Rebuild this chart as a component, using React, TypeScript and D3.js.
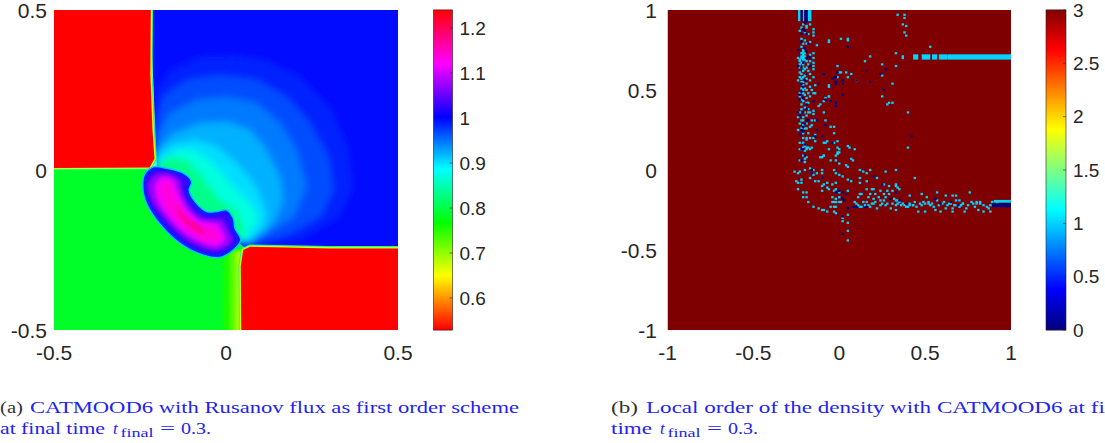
import React from "react";
import * as d3 from "d3";

type P = [number, number];

// ---------- left panel: density levels (axis units) ----------
const ticksA = [-0.5, 0, 0.5];
const cbarTicksA = [0.6, 0.7, 0.8, 0.9, 1, 1.1, 1.2];
const cbarDomainA: P = [0.529, 1.24];
const hueStopsA = [0.529, 0.648, 0.766, 0.885, 1.0, 1.12, 1.24];
const hueColorsA = ["#ff0000", "#ffff00", "#00ff00", "#00ffff", "#0000ff", "#ff00ff", "#ff0000"];

const lowLeftValue = 0.785;
const upperRightValue = 0.995;
const redValue = 0.529;
const lowLeftState: P[] = [[-0.6, 0.005], [-0.2, 0.005], [0.05, -0.24], [0.05, -0.6], [-0.6, -0.6]];
const upperRightState: P[] = [[-0.225, 0.6], [0.6, 0.6], [0.6, -0.25], [0.05, -0.24], [-0.2, 0]];
const upperLeftState: P[] = [[-0.6, 0.6], [-0.218, 0.6], [-0.22, 0.3], [-0.214, 0.13], [-0.208, 0.035], [-0.222, 0.008], [-0.6, 0.006]];
const lowerRightState: P[] = [[0.6, -0.6], [0.045, -0.6], [0.043, -0.3], [0.05, -0.25], [0.07, -0.24], [0.3, -0.245], [0.6, -0.245]];

const rarefactionClose: P[] = [[0.045, -0.23], [-0.1, -0.12], [-0.21, 0.01]];
const rarefactionValues = [0.985, 0.965, 0.945, 0.92, 0.9, 0.87, 0.83];
const rarefaction0: P[] = [[-0.206, 0.115], [-0.202, 0.25], [-0.163, 0.3125], [-0.076, 0.354], [0.021, 0.359], [0.118, 0.344], [0.215, 0.292], [0.302, 0.198], [0.356, 0.073], [0.37, -0.052], [0.331, -0.146], [0.215, -0.219], [0.079, -0.234]];
const rarefaction1: P[] = [[-0.203, 0.167], [-0.182, 0.229], [-0.114, 0.281], [-0.017, 0.297], [0.089, 0.281], [0.176, 0.229], [0.244, 0.146], [0.297, 0.042], [0.312, -0.0625], [0.273, -0.146], [0.167, -0.208], [0.079, -0.229]];
const rarefaction2: P[] = [[-0.202, 0.104], [-0.163, 0.177], [-0.085, 0.219], [0.002, 0.229], [0.089, 0.208], [0.157, 0.146], [0.205, 0.0625], [0.234, -0.052], [0.196, -0.146], [0.118, -0.198], [0.07, -0.229]];
const rarefaction3: P[] = [[-0.203, 0.0625], [-0.153, 0.115], [-0.076, 0.146], [0.002, 0.151], [0.07, 0.125], [0.118, 0.0625], [0.157, -0.021], [0.167, -0.094], [0.138, -0.167], [0.07, -0.229]];
const rarefaction4: P[] = [[-0.202, 0.042], [-0.153, 0.083], [-0.085, 0.094], [-0.027, 0.073], [0.031, 0.021], [0.089, -0.052], [0.118, -0.135], [0.109, -0.177], [0.065, -0.224]];
const rarefaction5: P[] = [[-0.202, 0.021], [-0.143, 0.0625], [-0.095, 0.0625], [-0.037, 0.021], [0.021, -0.052], [0.079, -0.115], [0.094, -0.156], [0.055, -0.219]];
const rarefaction6: P[] = [[-0.202, 0.016], [-0.163, 0.042], [-0.114, 0.031], [-0.076, -0.01], [-0.017, -0.094], [0.031, -0.125], [0.05, -0.177], [0.05, -0.208]];
const rarefactionLevels = [rarefaction0, rarefaction1, rarefaction2, rarefaction3, rarefaction4, rarefaction5, rarefaction6];

const fanValues = [0.755, 0.725, 0.69];
const fanLeftEdges = [-0.008, 0.012, 0.028];

const crescentValues = [0.985, 1.03, 1.07, 1.11, 1.135, 1.165];
const crescent0: P[] = [[-0.242, -0.042], [-0.235, -0.01], [-0.211, 0.01], [-0.172, 0.005], [-0.124, -0.01], [-0.1, -0.036], [-0.107, -0.063], [-0.09, -0.099], [-0.056, -0.13], [-0.027, -0.13], [0.002, -0.125], [0.021, -0.151], [0.026, -0.182], [0.043, -0.219], [0.021, -0.25], [-0.017, -0.273], [-0.066, -0.266], [-0.134, -0.229], [-0.202, -0.156], [-0.235, -0.094]];
const crescent1: P[] = [[-0.235, -0.042], [-0.226, -0.016], [-0.202, 0], [-0.163, -0.005], [-0.124, -0.021], [-0.109, -0.042], [-0.119, -0.063], [-0.1, -0.104], [-0.066, -0.1375], [-0.027, -0.141], [-0.003, -0.135], [0.012, -0.161], [0.016, -0.1875], [0.031, -0.219], [0.012, -0.245], [-0.022, -0.2625], [-0.066, -0.255], [-0.129, -0.219], [-0.192, -0.151], [-0.226, -0.094]];
const crescent2: P[] = [[-0.226, -0.047], [-0.211, -0.019], [-0.182, -0.01], [-0.148, -0.021], [-0.134, -0.036], [-0.129, -0.0625], [-0.109, -0.109], [-0.076, -0.146], [-0.032, -0.156], [-0.013, -0.156], [0.002, -0.182], [0.016, -0.219], [0.002, -0.2375], [-0.027, -0.25], [-0.066, -0.242], [-0.124, -0.208], [-0.182, -0.146], [-0.216, -0.094]];
const crescent3: P[] = [[-0.206, -0.047], [-0.187, -0.023], [-0.153, -0.031], [-0.141, -0.0625], [-0.119, -0.115], [-0.08, -0.156], [-0.027, -0.169], [-0.01, -0.193], [-0.003, -0.219], [-0.027, -0.2375], [-0.066, -0.229], [-0.119, -0.198], [-0.172, -0.141], [-0.202, -0.0885]];
const crescent4: P[] = [[-0.187, -0.042], [-0.163, -0.042], [-0.148, -0.078], [-0.124, -0.13], [-0.076, -0.172], [-0.032, -0.182], [-0.019, -0.2135], [-0.047, -0.224], [-0.105, -0.193], [-0.163, -0.135], [-0.187, -0.083]];
const crescent5: P[] = [[-0.143, -0.104], [-0.124, -0.1375], [-0.071, -0.179], [-0.061, -0.203], [-0.095, -0.185], [-0.134, -0.146]];
const crescentLevels = [crescent0, crescent1, crescent2, crescent3, crescent4, crescent5];

// ---------- right panel: troubled cells, hundredths of an axis unit ----------
const ticksB = [-1, -0.5, 0, 0.5, 1];
const cbarTicksB = [0, 0.5, 1, 1.5, 2, 2.5, 3];
const jetStops = [0, 0.375, 1.125, 1.875, 2.625, 3];
const jetColors = ["#00007f", "#0000ff", "#00ffff", "#ffff00", "#ff0000", "#7f0000"];
const backgroundOrder = 3;
const cellSize = 1.4;

const orderOneCells: P[] = [
  [-21,91],[-19,90],[-17,91],[-22,89],[-19,89],[-15,88],[-15,86],[-23,87],[-20,86],[-18,85],[-15,84],[-22,82],[-20,81],[-17,80],[-13,78],[-6,81],[-21,79],[-19,79],[-22,77],[-21,75],[-21,73],[-22,73],[-21,71],[-15,73],[-17,72],[-23,69],[-21,69],[-15,70],[-17,68],[-24,70],[-22,67],[-15,67],
  [-21,72],[-20,71],[-22,70],[-21,70],[-20,69],[-20,73],[-21,74],[-22,71],
  [-23,68],[-21,67],[-19,68],[-23,66],[-21,66],[-18,66],[-15,65],[-23,64],[-20,63],[-21,62],[-18,62],[-15,63],[-23,61],[-19,60],[-17,60],[-23,58],[-22,57],[-19,57],[-17,56],[-24,56],[-21,55],[-15,58],[-21,53],[-20,51],[-21,50],[-19,50],[-22,51],[-17,52],[-14,53],[-6,53],[-23,48],[-21,48],[-15,48],[-23,46],[-19,45],[-17,46],[-14,48],[-21,43],[-18,42],[-22,41],[-8,45],[-6,46],[-9,43],[-11,41],[-12,40],[-15,37],[-18,38],[-17,36],
  [-23,36],[-20,36],[-18,36],[-15,35],[-24,33],[-21,33],[-19,34],[-16,31],[-14,31],[-23,29],[-21,28],[-19,29],[-22,26],[-20,26],[-17,27],[-16,28],[-24,25],[-9,36],[-8,31],[-5,27],[-3,27],[-3,23],[-14,22],[-21,20],[-19,19],[-19,20],[-17,20],[-15,20],[-14,18],[-23,17],[-19,14],[-17,13],[-16,14],[-23,13],[-6,13],[-3,17],[-1,18],[0,13],[-1,10],[-9,9],[-11,8],[-20,7],[-20,5],[-23,6],[-21,9],[-8,17],
  [-21,17],[-20,16],[-20,15],[-21,14],[-22,13],[-19,13],[-18,14],
  [-21,64],[-19,64],[-22,60],[-20,59],[-21,58],[-22,55],[-19,54],[-20,47],[-22,44],[-19,42],[-20,39],[-22,38],[-18,48],[-16,50],[-21,31],[-22,31],[-19,26],[-18,23],[-21,23],
  [34,97],[38,97],[38,95],[37,91],[39,90],[38,86],[39,84],[-6,80],[1,82],[5,82],[5,81],[53,77],[33,73],[37,71],[37,70],[18,71],[15,68],[25,66],[33,65],[-1,65],[1,61],[0,61],[4,61],[7,60],[5,58],[-1,58],[10,56],[-6,52],[31,54],[25,59],[25,46],[-6,46],[28,41],[29,42],[31,42],[40,36],[40,14],[-1,14],[-1,11],[5,15],[6,14],[9,13],[-7,18],[-9,17],
  [-20,12],[-9,9],[-10,8],[0,11],[-2,9],[-19,8],[-20,5],[-5,6],[-2,6],[0,4],[4,3],[5,2],[7,7],[8,6],[44,-5],
  [-26,-1],[-23,-1],[-24,-2],[-20,0],[-17,1],[-15,0],[-10,0],[-13,-2],[-15,-3],[-17,-5],[-10,-2],[-3,0],[-2,-2],[0,-3],[2,-4],[12,0],[14,-1],[16,-2],[27,-1],[33,0],[18,0],
  [-25,-7],[-22,-6],[-24,-8],[-22,-8],[-12,-7],[-9,-9],[-7,-8],[-4,-9],[-2,-8],[5,-6],[7,-7],[12,-5],[12,-8],[22,-5],[16,-7],[16,-12],[19,-12],[20,-12],[26,-9],[29,-10],[33,-9],[35,-12],[31,-13],
  [-24,-12],[-21,-14],[-19,-14],[-21,-17],[-19,-17],[-18,-20],[-15,-23],[-12,-24],[-10,-25],[-9,-25],[-7,-26],[-3,-23],[-2,-23],[0,-20],[-4,-17],[-2,-20],[1,-20],[-3,-20],[-10,-13],[-7,-11],[-2,-12],[0,-14],[5,-13],[12,-15],[11,-17],[9,-20],[12,-23],[14,-20],[16,-20],[18,-23],[17,-22],[22,-24],[24,-19],[23,-17],[26,-15],[29,-15],[32,-18],[28,-21],[30,-24],[33,-25],[35,-20],[37,-21],[39,-23],[40,-23],[41,-16],[44,-20],[48,-15],[51,-17],[47,-21],[46,-26],[50,-26],[53,-22],[54,-21],[57,-14],[56,-25],[59,-26],[62,-24],[62,-16],[66,-24],[66,-26],[66,-16],[68,-16],[68,-19],[71,-22],[73,-26],[74,-24],[76,-14],[77,-20],[79,-23],[81,-25],[84,-22],[84,-26],[88,-26],[87,-24],[88,-22],[89,-20],[92,-20],[-3,-26],[-2,-27],[-5,-23],[5,-28],[2,-30],[2,-32],[5,-33],[5,-38],[5,-44],
  [36,-22],[38,-22],[41,-22],[43,-22],[45,-23],[48,-22],[50,-21],[52,-20],[55,-23],[58,-22],[60,-21],[63,-22],[65,-21],[67,-22],[70,-23],[72,-21],[75,-22],[78,-21],[80,-20],[82,-21],[86,-23],[10,-21],[11,-22],[13,-23],[15,-22],[19,-21],[21,-20],[25,-21],[27,-22],[31,-21],[33,-22],[34,-19],
  [13,-15],[18,-15],[21,-15],[24,-13],[28,-13],[33,-10],[34,-11],[17,-17],[20,-18],[26,-19],[27,-17],[33,-19],[34,-21],[24,-22],[20,-21],[41,-21],[43,-22],[49,-20],[52,-21],[57,-19],[61,-20],[64,-21],[68,-22],[70,-19],[72,-21],[80,-21],[82,-20],[-14,-7],[-10,-10],[-6,-12],[-3,-13],[0,-17],[-2,-18],[-4,-20],
];
const orderZeroCells: P[] = [
  [-21,88],[-20,87],[-22,85],[-19,85],[-18,79],[-20,76],[-24,75],[-17,70],[-19,70],[-21,67],
  [-22,64],[-17,65],[-9,60],[-1,61],[-4,57],[-2,58],[-2,55],[-12,54],[-22,54],[-22,49],[-23,44],[-15,43],[-19,41],[-21,36],[-5,43],[-8,44],[-2,42],[-24,36],
  [-21,27],[-22,25],[-19,31],[-13,25],[-14,21],[-10,21],[-8,28],[-4,17],[-20,16],[-22,13],[-21,13],[-13,31],[-22,6],
  [-3,58],[10,56],[2,56],[18,55],[2,54],[-2,54],[16,62],[24,60],[27,63],[26,50],[2,47],[-2,40],[42,21],[5,77],
  [-16,0],[-16,-2],[-10,-5],[0,-13],[2,-14],[4,-15],[2,-18],[3,-19],[-2,-14],[8,-23],[10,-23],[16,-23],[20,-4],[25,-9],[33,-14],[30,-18],[35,-19],[56,-18],[65,-20],[69,-22],[59,-21],[39,-21],[2,-29],[5,-24],[2,-40],
  [-20,92],[-19,93],[-22,80],[-19,74],[-18,71],[-24,65],[-19,60],[-20,56],[-21,52],[-23,47],[-21,45],[-19,38],[-23,34],[-18,31],[-20,29],[-21,24],[-23,22],[-20,9],
];
// bands of cells: x0, x1, y0, y1
const orderOneBands: number[][] = [
  [43,46,69,72.3],[48,53,69,72.3],[54,57,69,72.3],[58,63,69,72.3],[63,100,69,72.3],
  [90,100,-20.4,-18.7],
  [-24,-22.5,93,100],[-21.3,-20.3,93,100],[-18.2,-16.2,93,100],
];
const orderZeroBands: number[][] = [
  [89,100,-23.3,-20.8],[7,16,-23.6,-22.6],
  [-22.5,-21.3,93,100],[-20.3,-18.6,93,100],
];

// ---------- captions ----------
const captionA1 = "CATMOOD6 with Rusanov flux as first order scheme";
const captionA2 = "at final time";
const captionB1 = "Local order of the density with CATMOOD6 at final";
const captionB2 = "time";

// ---------- geometry ----------
const top = 10, bottom = 330;
const plotA = { x0: 54, x1: 398, cx0: 433.5, cx1: 452.5 };
const plotB = { x0: 667.5, x1: 1011, cx0: 1046, cx1: 1066 };
const ink = "#262626";
const font = "'Liberation Sans', Arial, sans-serif";
const serif = "'Liberation Serif', serif";
const blue = "#2323f0";

const xA = d3.scaleLinear().domain([-0.5, 0.5]).range([plotA.x0, plotA.x1]);
const yA = d3.scaleLinear().domain([-0.5, 0.5]).range([bottom, top]);
const xB = d3.scaleLinear().domain([-1, 1]).range([plotB.x0, plotB.x1]);
const yB = d3.scaleLinear().domain([-1, 1]).range([bottom, top]);
const colorA = d3.scaleLinear<string>().domain(hueStopsA).range(hueColorsA).interpolate(d3.interpolateRgb).clamp(true);
const jet = d3.scaleLinear<string>().domain(jetStops).range(jetColors).interpolate(d3.interpolateRgb).clamp(true);
const cbarYA = d3.scaleLinear().domain(cbarDomainA).range([bottom, top]);
const cbarYB = d3.scaleLinear().domain([0, 3]).range([bottom, top]);

const poly = d3.line<P>().x((d) => xA(d[0])).y((d) => yA(d[1]));
const smooth = d3.line<P>().x((d) => xA(d[0])).y((d) => yA(d[1])).curve(d3.curveCatmullRomClosed.alpha(0.5));
const sharp = (pts: P[]) => poly(pts) + "Z";

function ColorBar({ x0, x1, y, color, domain, ticks }: { x0: number; x1: number; y: d3.ScaleLinear<number, number>; color: (v: number) => string; domain: P; ticks: number[] }) {
  const steps = d3.range(0, 160).map((i) => domain[0] + ((domain[1] - domain[0]) * i) / 160);
  const h = (domain[1] - domain[0]) / 160;
  return (
    <g>
      {steps.map((v, i) => (
        <rect key={i} x={x0} width={x1 - x0} y={y(v + h) - 0.3} height={y(v) - y(v + h) + 0.6} fill={color(v)} />
      ))}
      <rect x={x0} y={top} width={x1 - x0} height={bottom - top} fill="none" stroke={ink} strokeWidth={0.6} />
      {ticks.map((t) => (
        <g key={t}>
          <line x1={x1 - 3} x2={x1} y1={y(t)} y2={y(t)} stroke={ink} strokeWidth={0.6} />
          <text x={x1 + 7} y={y(t) + 6.8} fontFamily={font} fontSize={19} fill={ink}>{t}</text>
        </g>
      ))}
    </g>
  );
}

function AxisLabels({ x, y, xt, yt, left }: { x: d3.ScaleLinear<number, number>; y: d3.ScaleLinear<number, number>; xt: number[]; yt: number[]; left: number }) {
  return (
    <g fontFamily={font} fontSize={21} fill={ink}>
      {xt.map((t) => (
        <text key={t} x={x(t)} y={bottom + 29.5} textAnchor="middle">{t}</text>
      ))}
      {yt.map((t) => (
        <text key={t} x={left} y={y(t) + 7.5} textAnchor="end">{t}</text>
      ))}
    </g>
  );
}

function Caption({ x, tag, tagWidth, line1, line2, width1, width2, tail }: { x: number; tag: string; tagWidth: number; line1: string; line2: string; width1: number; width2: number; tail: number }) {
  const base1 = 412.5, base2 = 433.5;
  return (
    <g fontFamily={serif} fontSize={17}>
      <text x={x} y={base1} fill="#333" textLength={tagWidth} lengthAdjust="spacingAndGlyphs">{tag}</text>
      <text x={x + tail} y={base1} fill={blue} textLength={width1} lengthAdjust="spacingAndGlyphs">{line1}</text>
      <text x={x} y={base2} fill={blue} textLength={width2} lengthAdjust="spacingAndGlyphs">{line2}</text>
      <text x={x + width2 + 8} y={base2} fill={blue} fontStyle="italic">t</text>
      <text x={x + width2 + 15.5} y={base2 + 3} fill={blue} fontSize={12} textLength={33} lengthAdjust="spacingAndGlyphs">final</text>
      <text x={x + width2 + 55} y={base2} fill={blue} textLength={15} lengthAdjust="spacingAndGlyphs">=</text>
      <text x={x + width2 + 76} y={base2} fill={blue} textLength={30} lengthAdjust="spacingAndGlyphs">0.3.</text>
    </g>
  );
}

export default function App() {
  const w = xB(0.01) - xB(0);
  const h = yB(0) - yB(0.01);
  const cell = (p: P, i: number, value: number) => (
    <rect key={i} x={xB(p[0] / 100) - (w * cellSize) / 2} y={yB(p[1] / 100) - (h * cellSize) / 2} width={w * cellSize} height={h * cellSize} fill={jet(value)} />
  );
  const band = (b: number[], i: number, value: number) => (
    <rect key={i} x={xB(b[0] / 100)} width={xB(b[1] / 100) - xB(b[0] / 100)} y={yB(b[3] / 100)} height={yB(b[2] / 100) - yB(b[3] / 100)} fill={jet(value)} />
  );
  return (
    <svg width={1105} height={443} style={{ position: "absolute", left: 0, top: 0, display: "block" }}>
      <defs>
        <clipPath id="clipA"><rect x={plotA.x0} y={top} width={plotA.x1 - plotA.x0} height={bottom - top} /></clipPath>
        <clipPath id="clipB"><rect x={plotB.x0} y={top} width={plotB.x1 - plotB.x0} height={bottom - top} /></clipPath>
        <filter id="soft" x="-10%" y="-10%" width="120%" height="120%"><feGaussianBlur stdDeviation={3.5} /></filter>
        <filter id="fan" x="-20%" y="-10%" width="140%" height="120%"><feGaussianBlur stdDeviation={1.8} /></filter>
        <filter id="inner" x="-10%" y="-10%" width="120%" height="120%"><feGaussianBlur stdDeviation={1.6} /></filter>
        <filter id="edge" x="-10%" y="-10%" width="120%" height="120%"><feGaussianBlur stdDeviation={0.7} /></filter>
        <filter id="cells" x="-10%" y="-10%" width="120%" height="120%"><feGaussianBlur stdDeviation={0.35} /></filter>
      </defs>
      <rect width={1105} height={443} fill="#fff" />

      <g clipPath="url(#clipA)">
        <path d={sharp(lowLeftState)} fill={colorA(lowLeftValue)} />
        <path d={sharp(upperRightState)} fill={colorA(upperRightValue)} />
        <g filter="url(#soft)">
          {rarefactionLevels.map((pts, i) => (
            <path key={i} d={sharp(pts.concat(rarefactionClose))} fill={colorA(rarefactionValues[i])} />
          ))}
        </g>
        <g filter="url(#fan)">
          {fanValues.map((v, i) => (
            <path key={i} d={sharp([[fanLeftEdges[i], -0.6], [fanLeftEdges[i], -0.255], [0.06, -0.25], [0.06, -0.6]])} fill={colorA(v)} />
          ))}
        </g>
        <g filter="url(#edge)">
          <path d={sharp(upperLeftState)} fill="none" stroke={colorA(0.84)} strokeWidth={4.6} />
          <path d={sharp(lowerRightState)} fill="none" stroke={colorA(0.84)} strokeWidth={4.6} />
          <path d={sharp(upperLeftState)} fill="none" stroke={colorA(0.67)} strokeWidth={2.8} />
          <path d={sharp(lowerRightState)} fill="none" stroke={colorA(0.67)} strokeWidth={2.8} />
          <path d={sharp(upperLeftState)} fill={colorA(redValue)} />
          <path d={sharp(lowerRightState)} fill={colorA(redValue)} />
        </g>
        <g filter="url(#edge)">
          <path d={smooth(crescent0)!} fill={colorA(crescentValues[0])} stroke={colorA(0.91)} strokeWidth={1.4} />
        </g>
        <g filter="url(#inner)">
          {crescentLevels.slice(1).map((pts, i) => (
            <path key={i} d={smooth(pts)!} fill={colorA(crescentValues[i + 1])} />
          ))}
        </g>
      </g>
      <AxisLabels x={xA} y={yA} xt={ticksA} yt={ticksA} left={47} />
      <ColorBar x0={plotA.cx0} x1={plotA.cx1} y={cbarYA} color={colorA} domain={cbarDomainA} ticks={cbarTicksA} />

      <g clipPath="url(#clipB)">
        <rect x={plotB.x0} y={top} width={plotB.x1 - plotB.x0} height={bottom - top} fill={jet(backgroundOrder)} />
        <g filter="url(#cells)">
          {orderOneBands.map((b, i) => band(b, i, 1))}
          {orderZeroBands.map((b, i) => band(b, i, 0))}
          {orderOneCells.map((p, i) => cell(p, i, 1))}
          {orderZeroCells.map((p, i) => cell(p, i, 0))}
        </g>
      </g>
      <AxisLabels x={xB} y={yB} xt={ticksB} yt={ticksB} left={657} />
      <ColorBar x0={plotB.cx0} x1={plotB.cx1} y={cbarYB} color={jet} domain={[0, 3]} ticks={cbarTicksB} />

      <Caption x={0} tag="(a)" tagWidth={23} tail={30} width1={489} width2={105} line1={captionA1} line2={captionA2} />
      <Caption x={611} tag="(b)" tagWidth={27} tail={35} width1={487} width2={41} line1={captionB1} line2={captionB2} />
    </svg>
  );
}
